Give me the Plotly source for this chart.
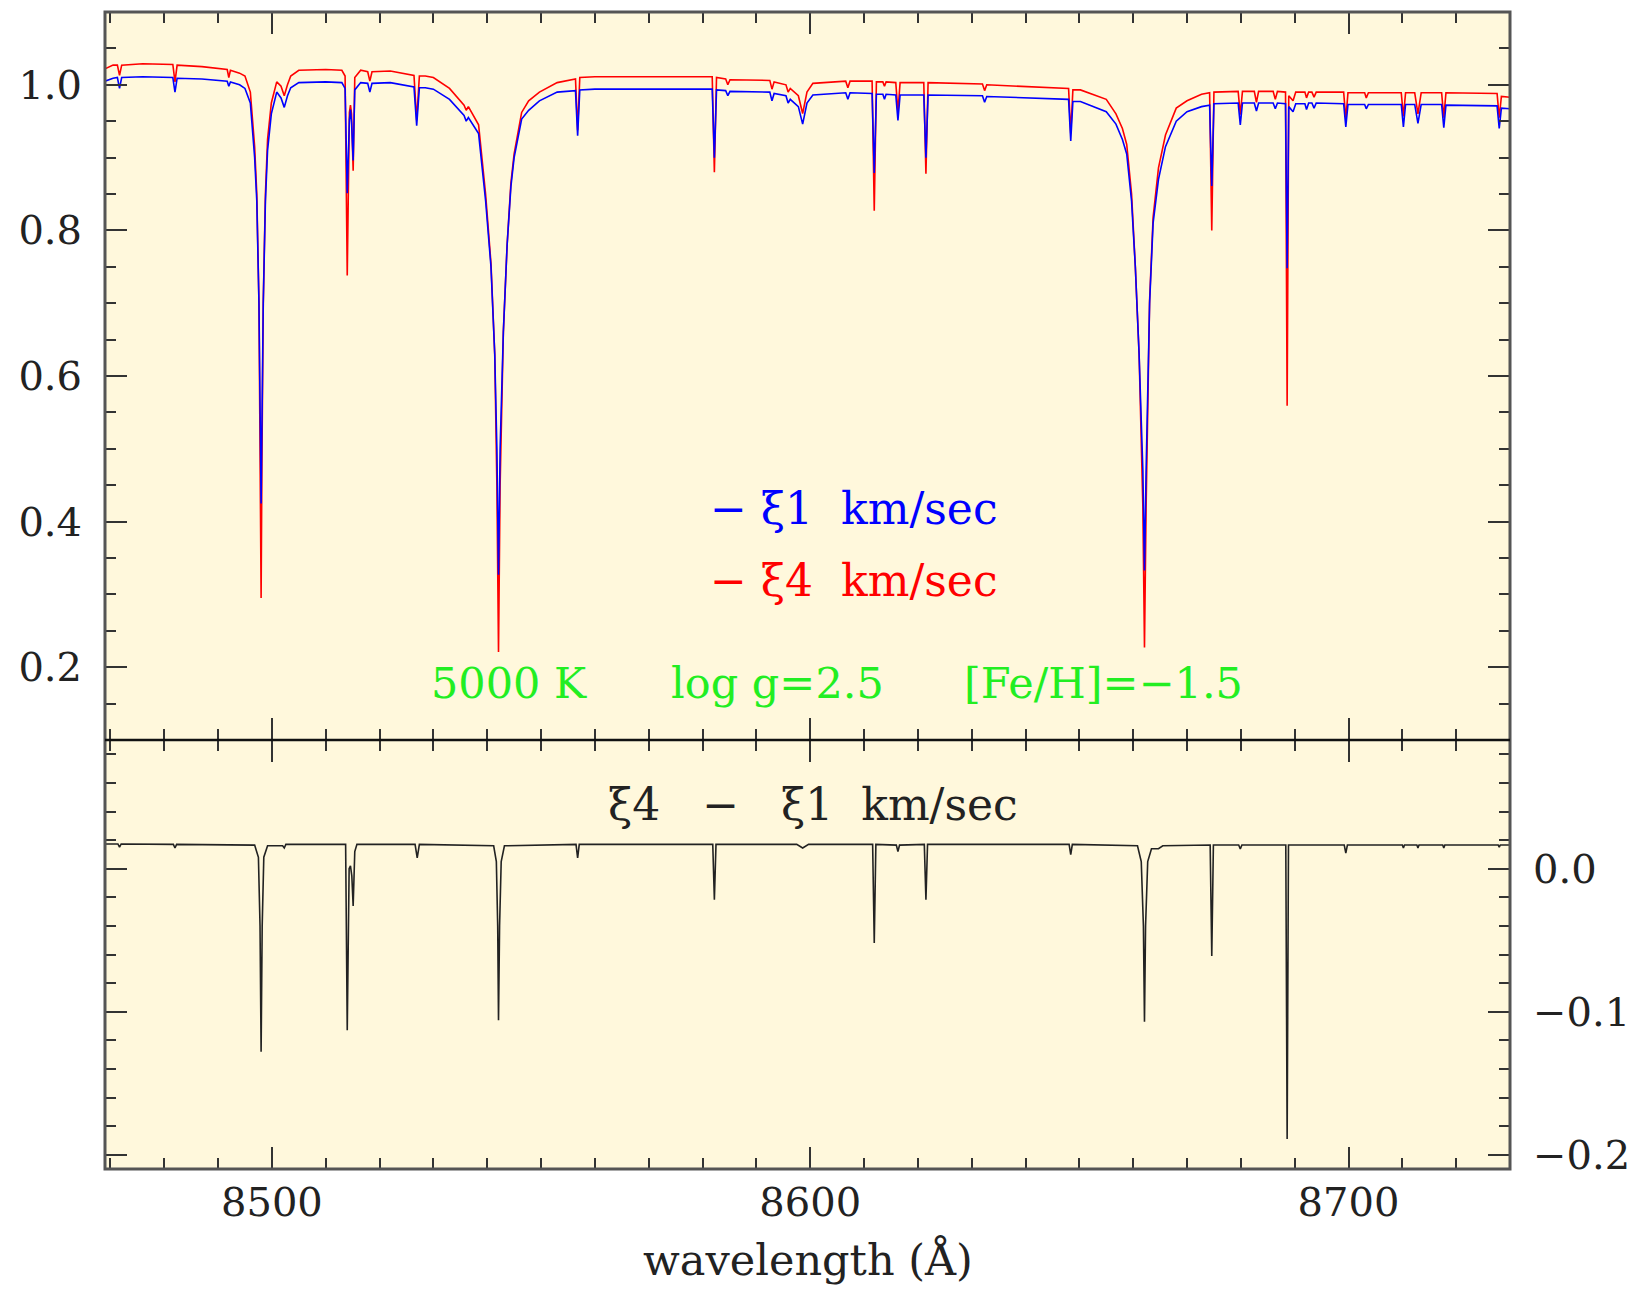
import plotly.graph_objects as go

# ---------------- data ----------------
# top panel: normalised flux for two microturbulence values
wavelength = [
    8469.0, 8470.5, 8471.3, 8471.7, 8472.1, 8476.0, 8481.6, 8482.0, 8482.4, 8487.0, 8491.7, 8492.0, 8492.3, 8494.0,
    8495.0, 8496.0, 8496.8, 8497.2, 8497.6, 8497.85, 8498.0, 8498.15, 8498.4, 8498.8, 8499.2, 8499.9, 8500.9, 8501.7, 8502.3, 8502.9, 8503.5,
    8505.0, 8510.0, 8513.0, 8513.6, 8514.0, 8514.4, 8514.6, 8514.8, 8515.1, 8515.4, 8516.5, 8517.8, 8518.2, 8518.6, 8522.0, 8526.4, 8526.9, 8527.4, 8528.5,
    8530.0, 8533.0, 8535.7, 8536.1, 8536.5, 8538.4, 8539.7, 8540.7, 8541.4, 8541.8, 8542.1, 8542.4, 8543.0, 8543.7, 8544.4, 8545.0, 8546.4, 8547.7, 8549.7, 8553.0, 8556.4, 8556.8, 8557.2,
    8560.0, 8570.0, 8581.8, 8582.2, 8582.6, 8584.3, 8584.7, 8585.1, 8592.5, 8592.9, 8593.3, 8595.5, 8595.9, 8596.3, 8597.8, 8598.6, 8599.4, 8600.5,
    8606.6, 8607.0, 8607.4, 8611.5, 8611.9, 8612.3, 8613.5, 8613.8, 8614.1, 8615.9, 8616.3, 8616.7, 8621.1, 8621.5, 8621.9, 8632.0, 8632.4, 8632.8, 8640.0, 8648.0, 8648.4, 8648.8, 8650.2,
    8655.0, 8656.8, 8658.0, 8658.8, 8659.7, 8660.4, 8661.1, 8661.8, 8662.1, 8662.4, 8663.05, 8663.7, 8664.7, 8666.0, 8668.0, 8670.0, 8672.7,
    8674.2, 8674.6, 8675.0, 8679.5, 8679.9, 8680.3, 8682.5, 8682.9, 8683.3, 8686.0, 8686.4, 8686.8, 8688.3, 8688.6, 8688.9, 8689.7, 8690.2,
    8691.9, 8692.2, 8692.6, 8693.2, 8693.6, 8694.0, 8699.1, 8699.5, 8699.9, 8703.0, 8703.3, 8703.7, 8709.8, 8710.2, 8710.6, 8712.3, 8712.9, 8713.5,
    8717.3, 8717.7, 8718.1, 8727.6, 8728.0, 8728.4, 8730.0,
]

flux_xi4 = [  # red, 4 km/sec
    1.022, 1.027, 1.027, 1.013, 1.027, 1.029, 1.028, 1.004, 1.027, 1.025, 1.021, 1.010, 1.020, 1.016,
    1.012, 0.990, 0.915, 0.850, 0.700, 0.480, 0.295, 0.480, 0.700, 0.850, 0.925, 0.975, 1.004, 0.998, 0.985, 1.000, 1.012,
    1.020, 1.021, 1.020, 1.012, 0.738, 0.962, 0.972, 0.960, 0.882, 1.010, 1.020, 1.018, 1.005, 1.018, 1.019, 1.013, 0.9515, 1.012, 1.012,
    1.010, 0.995, 0.972, 0.965, 0.970, 0.945, 0.850, 0.755, 0.630, 0.450, 0.221, 0.450, 0.660, 0.780, 0.865, 0.905, 0.962, 0.978, 0.990, 1.003, 1.008, 0.9375, 1.010,
    1.011, 1.011, 1.011, 0.880, 1.010, 1.008, 1.000, 1.007, 1.006, 0.994, 1.004, 1.000, 0.990, 0.995, 0.985, 0.9605, 0.990, 1.002,
    1.005, 0.996, 1.005, 1.005, 0.827, 1.004, 1.004, 0.998, 1.004, 1.003, 0.963, 1.003, 1.003, 0.878, 1.003, 1.001, 0.992, 1.000, 0.998, 0.995, 0.933, 0.993, 0.993,
    0.980, 0.960, 0.940, 0.918, 0.850, 0.750, 0.630, 0.420, 0.227, 0.420, 0.704, 0.818, 0.886, 0.931, 0.968, 0.978, 0.987,
    0.989, 0.800, 0.990, 0.991, 0.9588, 0.991, 0.991, 0.976, 0.991, 0.991, 0.980, 0.991, 0.990, 0.559, 0.985, 0.978, 0.990,
    0.990, 0.982, 0.990, 0.990, 0.983, 0.990, 0.990, 0.953, 0.989, 0.989, 0.982, 0.989, 0.989, 0.9565, 0.989, 0.989, 0.960, 0.989,
    0.989, 0.955, 0.989, 0.988, 0.955, 0.984, 0.983,
]

flux_xi1 = [  # blue, 1 km/sec
    1.005, 1.009, 1.010, 0.995, 1.010, 1.011, 1.010, 0.990, 1.009, 1.008, 1.005, 0.998, 1.004, 1.000,
    0.995, 0.975, 0.900, 0.840, 0.700, 0.530, 0.425, 0.530, 0.700, 0.840, 0.910, 0.960, 0.990, 0.982, 0.969, 0.985, 0.996,
    1.003, 1.004, 1.003, 0.995, 0.851, 0.952, 0.966, 0.948, 0.896, 0.993, 1.003, 1.002, 0.990, 1.002, 1.003, 0.997, 0.944, 0.996, 0.996,
    0.994, 0.980, 0.958, 0.950, 0.955, 0.933, 0.841, 0.750, 0.630, 0.500, 0.327, 0.500, 0.660, 0.780, 0.860, 0.900, 0.953, 0.965, 0.978, 0.990, 0.992, 0.930, 0.993,
    0.994, 0.994, 0.994, 0.900, 0.993, 0.992, 0.985, 0.991, 0.990, 0.978, 0.988, 0.985, 0.975, 0.980, 0.970, 0.946, 0.975, 0.986,
    0.989, 0.980, 0.989, 0.988, 0.879, 0.987, 0.987, 0.980, 0.987, 0.986, 0.951, 0.986, 0.986, 0.900, 0.986, 0.985, 0.976, 0.984, 0.982, 0.980, 0.923, 0.977, 0.977,
    0.963, 0.946, 0.925, 0.905, 0.840, 0.750, 0.630, 0.470, 0.333, 0.470, 0.700, 0.810, 0.870, 0.915, 0.950, 0.963, 0.970,
    0.972, 0.861, 0.974, 0.975, 0.945, 0.975, 0.975, 0.964, 0.975, 0.975, 0.967, 0.975, 0.974, 0.748, 0.970, 0.963, 0.974,
    0.974, 0.966, 0.975, 0.975, 0.968, 0.975, 0.974, 0.942, 0.973, 0.973, 0.967, 0.973, 0.973, 0.942, 0.973, 0.973, 0.947, 0.973,
    0.973, 0.941, 0.972, 0.971, 0.940, 0.968, 0.967,
]

# bottom panel: difference xi4 - xi1
diff_wavelength = [
    8469.0, 8471.4, 8471.7, 8472.0, 8481.7, 8482.0, 8482.3, 8496.8, 8497.5, 8497.8, 8498.0, 8498.2, 8498.5, 8499.2,
    8502.0, 8502.3, 8502.6, 8513.7, 8514.0, 8514.35, 8514.6, 8514.85, 8515.1, 8515.4, 8515.8, 8526.6, 8527.0, 8527.4,
    8541.2, 8541.7, 8541.95, 8542.1, 8542.3, 8542.6, 8543.2, 8556.5, 8556.8, 8557.1, 8581.9, 8582.2, 8582.5,
    8597.5, 8598.6, 8599.7, 8611.6, 8611.9, 8612.2, 8616.0, 8616.3, 8616.6, 8621.2, 8621.5, 8621.8, 8648.1, 8648.4, 8648.7,
    8660.8, 8661.5, 8661.9, 8662.1, 8662.3, 8662.7, 8663.4, 8664.7, 8665.5, 8674.3, 8674.6, 8674.9, 8679.6, 8679.9, 8680.2,
    8688.35, 8688.6, 8688.85, 8699.2, 8699.5, 8699.8, 8710.0, 8710.2, 8710.4, 8712.7, 8712.9, 8713.1, 8717.5, 8717.7, 8717.9,
    8727.8, 8728.0, 8728.2, 8730.0,
]
flux_difference = [
    0.0173, 0.0173, 0.0150, 0.0173, 0.0170, 0.0145, 0.0170, 0.0165, 0.0080, -0.040, -0.128, -0.040, 0.0080, 0.0160,
    0.0160, 0.0145, 0.0170, 0.0170, -0.113, 0.0000, 0.0020, -0.005, -0.026, 0.0120, 0.0170, 0.0170, 0.0075, 0.0170,
    0.0160, 0.0050, -0.040, -0.106, -0.040, 0.0050, 0.0160, 0.0170, 0.0075, 0.0170, 0.0170, -0.0217, 0.0170,
    0.0170, 0.0145, 0.0170, 0.0170, -0.052, 0.0170, 0.0165, 0.0120, 0.0165, 0.0170, -0.0217, 0.0170, 0.0170, 0.0098, 0.0170,
    0.0160, 0.0050, -0.040, -0.107, -0.040, 0.0050, 0.0140, 0.0140, 0.0160, 0.0166, -0.061, 0.0166, 0.0166, 0.0138, 0.0166,
    0.0166, -0.189, 0.0166, 0.0166, 0.0110, 0.0166, 0.0166, 0.0145, 0.0166, 0.0166, 0.0145, 0.0166, 0.0166, 0.0145, 0.0166,
    0.0166, 0.0150, 0.0166, 0.0166,
]

assert len(wavelength) == len(flux_xi4) == len(flux_xi1), (len(wavelength), len(flux_xi4), len(flux_xi1))
assert len(diff_wavelength) == len(flux_difference), (len(diff_wavelength), len(flux_difference))

x_range = [8469.0, 8730.0]
top_range = [0.1, 1.1]
bottom_range = [-0.21, 0.09]

# ---------------- figure ----------------
FONT = "DejaVu Serif"
FRAME = "#555555"
TICK = "#333333"
BG = "#FFF8DC"

fig = go.Figure()
fig.add_trace(go.Scatter(x=wavelength, y=flux_xi4, mode="lines", line=dict(color="#FF0000", width=1.6),
                         xaxis="x", yaxis="y", showlegend=False))
fig.add_trace(go.Scatter(x=wavelength, y=flux_xi1, mode="lines", line=dict(color="#0000FF", width=1.6),
                         xaxis="x", yaxis="y", showlegend=False))
fig.add_trace(go.Scatter(x=diff_wavelength, y=flux_difference, mode="lines", line=dict(color="#222222", width=1.6),
                         xaxis="x2", yaxis="y2", showlegend=False))

split = 429 / 1157
TICKFONT = dict(family=FONT, size=40, color="#222222")

common_x = dict(range=x_range, ticks="inside", tickmode="linear", tick0=8500, dtick=100, ticklen=22,
                tickwidth=2, tickcolor=TICK,
                minor=dict(ticks="inside", dtick=10, tick0=8500, ticklen=11, tickwidth=2, tickcolor=TICK),
                showline=False, mirror="allticks", showgrid=False, zeroline=False, automargin=False,
                tickfont=TICKFONT)

fig.update_layout(
    width=1639, height=1289,
    margin=dict(l=105, r=129, t=12, b=120, autoexpand=False),
    paper_bgcolor="white", plot_bgcolor=BG,
    xaxis=dict(domain=[0, 1], anchor="y", showticklabels=False, **common_x),
    xaxis2=dict(domain=[0, 1], anchor="y2", matches="x", showticklabels=True, ticklabelstandoff=6, **common_x),
    yaxis=dict(domain=[split, 1], range=top_range, anchor="x", ticks="inside", tickmode="linear", tick0=0.2, dtick=0.2,
               ticklen=22, tickwidth=2, tickcolor=TICK, tickformat=".1f",
               minor=dict(ticks="inside", dtick=0.05, tick0=0.2, ticklen=11, tickwidth=2, tickcolor=TICK),
               showline=False, mirror="allticks", showgrid=False, zeroline=False, automargin=False,
               ticklabelstandoff=22, tickfont=TICKFONT),
    yaxis2=dict(domain=[0, split], range=bottom_range, anchor="x2", side="right", ticks="inside", tickmode="linear",
                tick0=0.0, dtick=0.1, ticklen=22, tickwidth=2, tickcolor=TICK, tickformat=".1f",
                minor=dict(ticks="inside", dtick=0.02, tick0=0.0, ticklen=11, tickwidth=2, tickcolor=TICK),
                showline=False, mirror="allticks", showgrid=False, zeroline=False, automargin=False,
                ticklabelstandoff=22, tickfont=TICKFONT),
)

# frame and divider between panels
fig.add_shape(type="rect", xref="paper", yref="paper", x0=0, x1=1, y0=0, y1=1,
              line=dict(color=FRAME, width=3), layer="above")
fig.add_shape(type="line", xref="paper", yref="paper", x0=0, x1=1, y0=split, y1=split,
              line=dict(color="#111111", width=2.5), layer="above")

ann_font = dict(family=FONT, size=44)
fig.add_annotation(x=8581.0, y=0.418, xref="x", yref="y", text="− ξ1  km/sec", showarrow=False,
                   xanchor="left", yanchor="middle", font=dict(color="#0000FF", **ann_font))
fig.add_annotation(x=8581.0, y=0.319, xref="x", yref="y", text="− ξ4  km/sec", showarrow=False,
                   xanchor="left", yanchor="middle", font=dict(color="#FF0000", **ann_font))
for label, xpos in [("5000 K", 8529.1), ("log g=2.5", 8573.8), ("[Fe/H]=−1.5", 8628.2)]:
    fig.add_annotation(x=xpos, y=0.1786, xref="x", yref="y", text=label, showarrow=False,
                       xanchor="left", yanchor="middle", font=dict(color="#22EE22", family=FONT, size=43))
fig.add_annotation(x=8562.1, y=0.0448, xref="x2", yref="y2", text="ξ4   −   ξ1  km/sec", showarrow=False,
                   xanchor="left", yanchor="middle", font=dict(color="#222222", **ann_font))
fig.add_annotation(x=0.5, y=-0.0787, xref="paper", yref="paper", text="wavelength (Å)", showarrow=False,
                   xanchor="center", yanchor="middle", font=dict(color="#222222", family=FONT, size=43))

fig.write_html("out.html")
